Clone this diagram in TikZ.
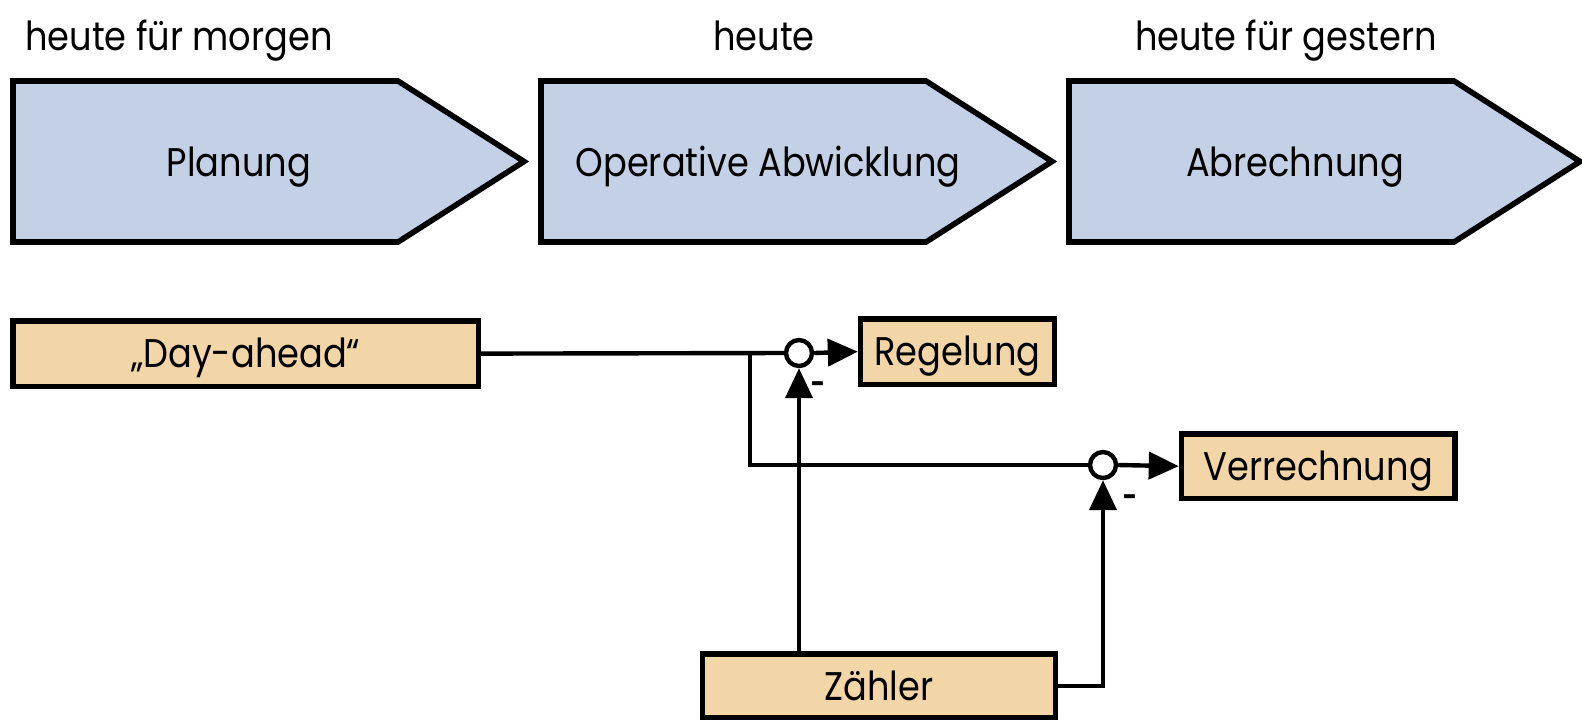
\documentclass[tikz,border=0pt]{standalone}
\usepackage{fontspec}
\setmainfont{Poppins}[FakeStretch=0.88]
\usetikzlibrary{arrows.meta}
\definecolor{phaseblue}{RGB}{195,208,229}
\definecolor{boxorange}{RGB}{242,214,168}
\tikzset{
  phase/.style={draw=black,fill=phaseblue,line width=2.8pt,line join=miter},
  block/.style={rectangle,draw=black,fill=boxorange,line width=2.8pt,inner sep=0pt,
    font=\fontsize{20}{24}\selectfont,text height=14pt,text depth=0pt},
  sumpt/.style={circle,draw=black,fill=white,line width=2.2pt,minimum size=13pt,inner sep=0pt},
  flow/.style={line width=2.2pt},
  feed/.style={line width=2.2pt,-{Triangle[length=15pt,width=13.5pt]}},
  lbl/.style={font=\fontsize{20}{24}\selectfont,inner sep=0pt,text height=14pt,text depth=0pt},
  minus/.style={font=\bfseries\fontsize{14}{16}\selectfont,inner sep=0pt}
}
\begin{document}
\begin{tikzpicture}[x=0.5pt,y=-0.5pt]
\useasboundingbox (0,0) rectangle (1582,719);
% phases
\draw[phase] (13,81) -- ++(385,0) -- ++(126,80.5) -- ++(-126,80.5) -- ++(-385,0) -- cycle;
\draw[phase] (541,81) -- ++(385,0) -- ++(126,80.5) -- ++(-126,80.5) -- ++(-385,0) -- cycle;
\draw[phase] (1069,81) -- ++(385,0) -- ++(126,80.5) -- ++(-126,80.5) -- ++(-385,0) -- cycle;
\node[lbl] (planung) at (239,162) {Planung};
\node[lbl] (operativ) at (768,162) {Operative Abwicklung};
\node[lbl] (abrechnung) at (1295,162) {Abrechnung};
\node[lbl] (morgen) at (179,36) {heute für morgen};
\node[lbl] (heute) at (764,36) {heute};
\node[lbl] (gestern) at (1286,36) {heute für gestern};

% blocks
\node[block,minimum width=232.6pt,minimum height=32.8pt] (dayahead) at (245.7,353.6) {„Day-ahead“};
\node[block,minimum width=96.9pt,minimum height=32.8pt] (regelung) at (957.5,351.6) {Regelung};
\node[block,minimum width=136.8pt,minimum height=32.2pt] (verrechnung) at (1318.3,466.2) {Verrechnung};
\node[block,minimum width=176.5pt,minimum height=32pt] (zaehler) at (878.9,686) {Zähler};
\node[sumpt] (sum1) at (799,353) {};
\node[sumpt] (sum2) at (1103,465) {};
\coordinate (split) at (750,353);
\coordinate (bend) at (750,465);

% connectors
\draw[flow] (dayahead.east) -- (sum1.west);
\draw[flow] (split) -- (bend) -- (sum2.west);
\draw[feed] (sum1.east) -- (regelung.west);
\draw[feed] (sum2.east) -- (verrechnung.west);
\draw[feed] (sum1 |- zaehler.north) -- (sum1.south);
\draw[feed] (zaehler.east) -| (sum2.south);
\node[minus] (m1) at (818,388) {-};
\node[minus] (m2) at (1130,501) {-};
\end{tikzpicture}
\end{document}
